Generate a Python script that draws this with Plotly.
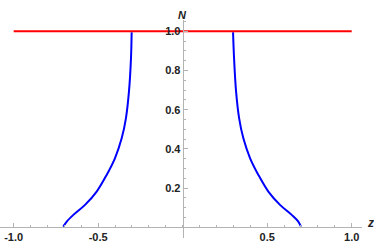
import plotly.graph_objects as go

# data
z_left = [-0.707, -0.686, -0.647, -0.578, -0.509, -0.450, -0.401, -0.361, -0.336, -0.318, -0.306, -0.302]
n_left = [0.003, 0.029, 0.063, 0.114, 0.182, 0.267, 0.352, 0.454, 0.556, 0.692, 0.862, 0.995]
z_right = [0.700, 0.684, 0.645, 0.576, 0.507, 0.448, 0.399, 0.359, 0.334, 0.316, 0.304, 0.298]
n_right = [0.003, 0.029, 0.063, 0.114, 0.182, 0.267, 0.352, 0.454, 0.556, 0.692, 0.862, 0.995]
z_line = [-1.0, 1.0]
n_line = [1.0, 1.0]

x_ticks = [-1.0, -0.5, 0.5, 1.0]
x_labels = ["-1.0", "-0.5", "0.5", "1.0"]
y_ticks = [0.2, 0.4, 0.6, 0.8, 1.0]
y_labels = ["0.2", "0.4", "0.6", "0.8", "1.0"]

xr = [-1.081, 1.061]
yr = [-0.055, 1.058]

fig = go.Figure()
fig.add_trace(go.Scatter(x=z_left, y=n_left, mode="lines", line=dict(color="#0000ff", width=2, shape="spline")))
fig.add_trace(go.Scatter(x=z_right, y=n_right, mode="lines", line=dict(color="#0000ff", width=2, shape="spline")))
fig.add_trace(go.Scatter(x=z_line, y=n_line, mode="lines", line=dict(color="#ff0000", width=2)))

tickfont = dict(family="Liberation Sans, Arial, sans-serif", size=11, color="#222222", weight="bold")
axis_color = "#b3b3b3"

fig.update_layout(
    width=374, height=245,
    margin=dict(l=0, r=12, t=20, b=7),
    paper_bgcolor="white", plot_bgcolor="white",
    showlegend=False,
    xaxis=dict(
        range=xr, showgrid=False, zeroline=False, showline=True, linecolor=axis_color, linewidth=1,
        anchor="free", position=(0 - yr[0]) / (yr[1] - yr[0]),
        tickmode="array", tickvals=x_ticks, ticktext=x_labels,
        ticks="inside", ticklen=4, tickcolor=axis_color, tickfont=tickfont,
        minor=dict(dtick=0.1, tick0=0, ticks="inside", ticklen=2, tickcolor=axis_color),
        automargin=False,
    ),
    yaxis=dict(
        range=yr, showgrid=False, zeroline=False, showline=True, linecolor=axis_color, linewidth=1,
        anchor="free", position=(0 - xr[0]) / (xr[1] - xr[0]),
        tickmode="array", tickvals=y_ticks, ticktext=y_labels,
        ticks="inside", ticklen=4, tickcolor=axis_color, tickfont=tickfont,
        minor=dict(dtick=0.05, tick0=0, ticks="inside", ticklen=2, tickcolor=axis_color),
        automargin=False,
    ),
    annotations=[
        dict(text="<i>N</i>", x=0, y=1.0, xref="x", yref="paper", yshift=13, showarrow=False,
             font=dict(family="Liberation Sans, Arial, sans-serif", size=11, color="#222222", weight="bold")),
        dict(text="<i>z</i>", x=1.0, y=(0 - yr[0]) / (yr[1] - yr[0]), xref="paper", yref="paper",
             xanchor="left", yshift=-5, xshift=3, showarrow=False,
             font=dict(family="Liberation Sans, Arial, sans-serif", size=12, color="#222222", weight="bold")),
    ],
)

fig.write_html("out.html", config={"displayModeBar": False},
               post_script="document.body.style.margin='0px';document.body.style.overflow='hidden';")
